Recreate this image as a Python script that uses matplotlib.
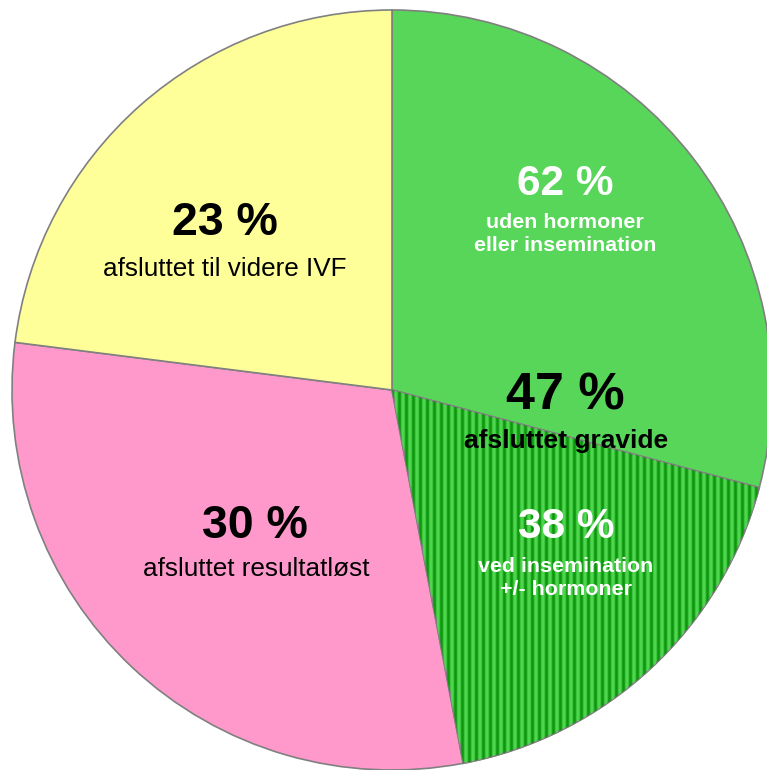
import numpy as np
import matplotlib.pyplot as plt
from matplotlib.patches import Wedge

plt.rcParams['font.family'] = ['Liberation Sans', 'DejaVu Sans']

# share of all courses, gravid split into without / with insemination
gravid_total = 47
gravid_split = [62, 38]
other_labels = ["afsluttet resultatløst", "afsluttet til videre IVF"]
other_values = [30, 23]

values = [gravid_total * s / 100 for s in gravid_split] + other_values
colors = ["#58d65a", "#3cc63c", "#ff99cc", "#ffff99"]

W, H = 767, 770
fig = plt.figure(figsize=(W / 100, H / 100), dpi=100)
ax = fig.add_axes([0, 0, 1, 1])

cx, cy, r = 392, H - 390, 380
wedges, _ = ax.pie(values, colors=colors, startangle=90, counterclock=False,
                   center=(cx, cy), radius=r,
                   wedgeprops=dict(edgecolor="#808080", linewidth=1.2))

# vertical stripes on the insemination slice (pattern only, clipped to slice)
w = wedges[1]
xs = np.arange(cx, W + 7, 7)
dark = ax.vlines(xs, 0, H, colors="#109510", linewidth=1.8)
light = ax.vlines(xs + 3.5, 0, H, colors="#56dc56", linewidth=1.1)
dark.set_clip_path(w)
light.set_clip_path(w)
outline = Wedge(w.center, w.r, w.theta1, w.theta2,
                facecolor="none", edgecolor="#808080", linewidth=1.2)
ax.add_patch(outline)

ax.set_xlim(0, W)
ax.set_ylim(0, H)
ax.set_aspect("auto")
ax.axis("off")


def label(x, y, txt, size, color="black", weight="bold", ls=1.0):
    ax.text(x, H - y, txt, ha="center", va="center", fontsize=size,
            color=color, fontweight=weight, linespacing=ls)


label(565, 184, f"{gravid_split[0]} %", 30.5, "white")
label(565, 234, "uden hormoner\neller insemination", 15.4, "white", ls=1.25)
label(565, 396, f"{gravid_total} %", 37.5)
label(566, 441, "afsluttet gravide", 19)
label(566, 527, f"{gravid_split[1]} %", 30.5, "white")
label(566, 578, "ved insemination\n+/- hormoner", 15.4, "white", ls=1.25)
label(255, 526, f"{other_values[0]} %", 33.5)
label(256, 569, other_labels[0], 18.8, weight="normal")
label(225, 223, f"{other_values[1]} %", 33.5)
label(225, 269, other_labels[1], 18.8, weight="normal")

fig.savefig("out.png", dpi=100)
